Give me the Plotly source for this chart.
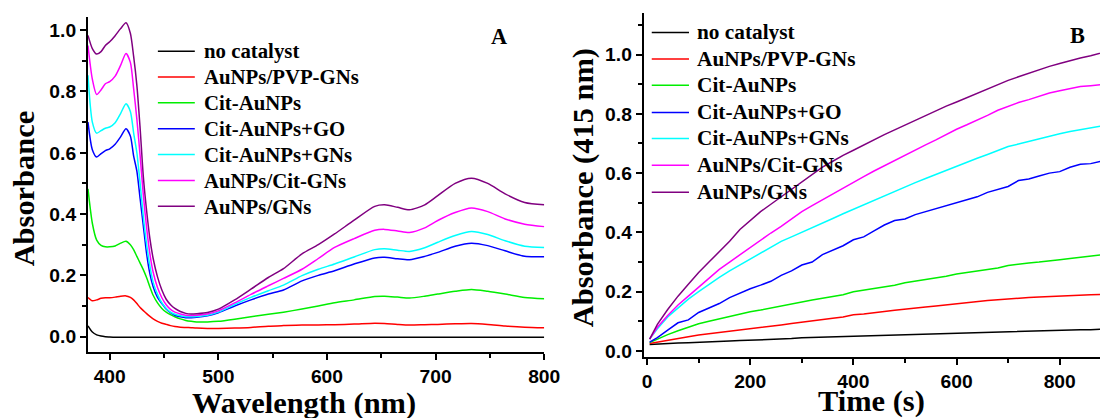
import plotly.graph_objects as go

# Observed page geometry: the figure lands 8px in from the page corner and the
# snapshot is scaled by ~0.9855. Positions below are given in reference pixels
# and converted to figure pixels.
S = 0.9855
OFF = 8
W, H = 1116, 416


def fpx(p):
    return p / S - OFF


def fx(p):
    return fpx(p) / W


def fy(p):
    return 1 - fpx(p) / H


def fs(size):
    return size / S


names = ["no catalyst", "AuNPs/PVP-GNs", "Cit-AuNPs", "Cit-AuNPs+GO",
         "Cit-AuNPs+GNs", "AuNPs/Cit-GNs", "AuNPs/GNs"]
colors = ["#000000", "#ff0000", "#00ee00", "#0000ff", "#00ffff", "#ff00ff", "#800080"]

# ---------------- Panel A: UV-vis spectra ----------------
wavelength = [380, 384, 388, 392, 396, 400, 405, 410, 415, 419,
              422, 425, 428, 431, 434, 437, 440, 444, 448, 452,
              456, 460, 465, 470, 475, 480, 490, 500, 515, 530,
              546, 560, 577, 592, 607, 625, 644, 653, 665, 676,
              690, 702, 718, 733, 748, 764, 782, 800]

spec_no_catalyst = [0.035, 0.015, 0.006, 0.002, 0.0, -0.001, -0.002, -0.002, -0.002, -0.002,
                    -0.002, -0.002, -0.002, -0.002, -0.002, -0.002, -0.002, -0.002, -0.002, -0.002,
                    -0.002, -0.002, -0.002, -0.002, -0.002, -0.002, -0.002, -0.002, -0.002, -0.002,
                    -0.002, -0.002, -0.002, -0.002, -0.002, -0.002, -0.002, -0.002, -0.002, -0.002,
                    -0.002, -0.002, -0.002, -0.002, -0.002, -0.002, -0.002, -0.002]
spec_pvp_gns = [0.128, 0.117, 0.12, 0.125, 0.127, 0.127, 0.129, 0.132, 0.133, 0.128,
                0.12, 0.108, 0.095, 0.085, 0.075, 0.066, 0.058, 0.05, 0.044, 0.04,
                0.036, 0.033, 0.031, 0.03, 0.029, 0.028, 0.027, 0.027, 0.028, 0.03,
                0.034, 0.036, 0.038, 0.038, 0.039, 0.041, 0.044, 0.043, 0.04, 0.038,
                0.039, 0.04, 0.042, 0.043, 0.04, 0.035, 0.031, 0.029]
spec_cit_aunps = [0.482, 0.37, 0.315, 0.298, 0.293, 0.293, 0.296, 0.305, 0.311, 0.3,
                  0.284, 0.262, 0.24, 0.218, 0.192, 0.162, 0.135, 0.11, 0.092, 0.08,
                  0.072, 0.065, 0.058, 0.053, 0.05, 0.048, 0.048, 0.05, 0.057, 0.065,
                  0.073, 0.08, 0.09, 0.1, 0.111, 0.12, 0.131, 0.132, 0.129, 0.126,
                  0.132, 0.139, 0.148, 0.154, 0.148, 0.139, 0.128, 0.124]
spec_cit_go = [0.70, 0.61, 0.586, 0.597, 0.607, 0.613, 0.628, 0.652, 0.678, 0.655,
               0.59, 0.54, 0.45, 0.36, 0.27, 0.205, 0.163, 0.128, 0.108, 0.09,
               0.078, 0.07, 0.065, 0.062, 0.062, 0.063, 0.068, 0.078, 0.1, 0.12,
               0.139, 0.152, 0.182, 0.2, 0.215, 0.237, 0.257, 0.259, 0.254, 0.251,
               0.262, 0.275, 0.295, 0.305, 0.297, 0.28, 0.262, 0.261]
spec_cit_gns = [0.853, 0.7, 0.664, 0.672, 0.68, 0.684, 0.698, 0.728, 0.76, 0.735,
                0.665, 0.6, 0.5, 0.39, 0.3, 0.23, 0.177, 0.138, 0.11, 0.092,
                0.08, 0.073, 0.068, 0.065, 0.065, 0.066, 0.07, 0.08, 0.105, 0.128,
                0.15, 0.168, 0.199, 0.22, 0.237, 0.26, 0.284, 0.287, 0.282, 0.278,
                0.29, 0.308, 0.33, 0.343, 0.333, 0.313, 0.295, 0.291]
spec_aunps_cit_gns = [0.95, 0.84, 0.79, 0.805, 0.825, 0.832, 0.85, 0.885, 0.924, 0.895,
                      0.81, 0.71, 0.59, 0.46, 0.355, 0.27, 0.21, 0.16, 0.127, 0.104,
                      0.089, 0.08, 0.074, 0.07, 0.069, 0.07, 0.074, 0.084, 0.11, 0.138,
                      0.166, 0.19, 0.22, 0.255, 0.291, 0.32, 0.347, 0.35, 0.345, 0.34,
                      0.355, 0.379, 0.405, 0.42, 0.408, 0.384, 0.367, 0.359]
spec_aunps_gns = [0.983, 0.94, 0.922, 0.93, 0.95, 0.962, 0.982, 1.005, 1.024, 0.99,
                  0.915, 0.82, 0.68, 0.52, 0.41, 0.32, 0.255, 0.195, 0.152, 0.122,
                  0.104, 0.092, 0.082, 0.076, 0.074, 0.075, 0.079, 0.09, 0.12, 0.155,
                  0.193, 0.222, 0.27, 0.3, 0.335, 0.38, 0.425, 0.43, 0.422, 0.414,
                  0.43, 0.46, 0.5, 0.517, 0.5, 0.466, 0.438, 0.43]

# ---------------- Panel B: kinetics at 415 nm ----------------
time_s = [5, 20, 40, 60, 80, 100, 120, 140, 160, 180,
          200, 220, 240, 260, 280, 300, 320, 340, 360, 380,
          400, 420, 440, 460, 480, 500, 520, 540, 560, 580,
          600, 620, 640, 660, 680, 700, 720, 740, 760, 780,
          800, 820, 840, 860, 880, 900]

kin_no_catalyst = [0.022, 0.024, 0.026, 0.027, 0.028, 0.03, 0.031, 0.033, 0.034, 0.035,
                   0.036, 0.037, 0.039, 0.04, 0.042, 0.045, 0.046, 0.047, 0.048, 0.05,
                   0.052, 0.053, 0.054, 0.055, 0.056, 0.057, 0.058, 0.059, 0.06, 0.061,
                   0.062, 0.063, 0.064, 0.065, 0.066, 0.066, 0.067, 0.068, 0.069, 0.07,
                   0.07, 0.071, 0.072, 0.072, 0.073, 0.074]
kin_pvp_gns = [0.025, 0.03, 0.036, 0.042, 0.048, 0.054, 0.058, 0.063, 0.067, 0.071,
               0.075, 0.079, 0.083, 0.088, 0.093, 0.097, 0.1, 0.105, 0.11, 0.115,
               0.122, 0.125, 0.128, 0.133, 0.137, 0.14, 0.144, 0.148, 0.152, 0.156,
               0.16, 0.163, 0.167, 0.17, 0.173, 0.176, 0.178, 0.18, 0.182, 0.184,
               0.186, 0.187, 0.188, 0.19, 0.191, 0.192]
kin_cit_aunps = [0.028, 0.04, 0.055, 0.068, 0.08, 0.092, 0.1, 0.108, 0.117, 0.125,
                 0.132, 0.138, 0.145, 0.152, 0.16, 0.165, 0.172, 0.178, 0.185, 0.19,
                 0.2, 0.205, 0.21, 0.217, 0.222, 0.23, 0.235, 0.24, 0.246, 0.252,
                 0.26, 0.265, 0.27, 0.275, 0.28, 0.288, 0.293, 0.297, 0.3, 0.305,
                 0.308, 0.312, 0.316, 0.32, 0.324, 0.328]
kin_cit_go = [0.03, 0.045, 0.07, 0.095, 0.105, 0.13, 0.145, 0.16, 0.18, 0.195,
              0.21, 0.222, 0.235, 0.255, 0.27, 0.29, 0.3, 0.325, 0.34, 0.355,
              0.375, 0.385, 0.405, 0.425, 0.44, 0.445, 0.46, 0.47, 0.48, 0.49,
              0.5, 0.51, 0.52, 0.535, 0.545, 0.555, 0.575, 0.58, 0.59, 0.6,
              0.605, 0.62, 0.63, 0.632, 0.64, 0.65]
kin_cit_gns = [0.04, 0.075, 0.115, 0.145, 0.175, 0.2, 0.225, 0.248, 0.27, 0.29,
               0.31, 0.33, 0.35, 0.37, 0.385, 0.4, 0.415, 0.43, 0.447, 0.463,
               0.478, 0.495, 0.51, 0.525, 0.54, 0.555, 0.568, 0.582, 0.596, 0.61,
               0.624, 0.637, 0.65, 0.663, 0.677, 0.69, 0.698, 0.707, 0.716, 0.725,
               0.733, 0.74, 0.746, 0.752, 0.759, 0.767]
kin_aunps_cit_gns = [0.04, 0.08, 0.12, 0.155, 0.185, 0.215, 0.245, 0.275, 0.3, 0.325,
                     0.35, 0.375, 0.398, 0.42, 0.445, 0.47, 0.49, 0.51, 0.53, 0.55,
                     0.568, 0.588, 0.607, 0.625, 0.643, 0.66, 0.677, 0.695, 0.712, 0.73,
                     0.748, 0.763, 0.778, 0.795, 0.812, 0.826, 0.838, 0.848, 0.86, 0.87,
                     0.878, 0.886, 0.892, 0.895, 0.898, 0.905]
kin_aunps_gns = [0.04, 0.09, 0.14, 0.185, 0.225, 0.265, 0.3, 0.335, 0.37, 0.41,
                 0.44, 0.47, 0.495, 0.52, 0.545, 0.57, 0.595, 0.62, 0.64, 0.66,
                 0.677, 0.695, 0.713, 0.73, 0.746, 0.762, 0.778, 0.795, 0.81, 0.826,
                 0.84, 0.855, 0.87, 0.885, 0.9, 0.913, 0.925, 0.937, 0.948, 0.96,
                 0.97, 0.98, 0.988, 0.996, 1.005, 1.015]

spectra = [spec_no_catalyst, spec_pvp_gns, spec_cit_aunps, spec_cit_go,
           spec_cit_gns, spec_aunps_cit_gns, spec_aunps_gns]
kinetics = [kin_no_catalyst, kin_pvp_gns, kin_cit_aunps, kin_cit_go,
            kin_cit_gns, kin_aunps_cit_gns, kin_aunps_gns]

fig = go.Figure()
for name, col, ys in zip(names, colors, spectra):
    fig.add_trace(go.Scatter(x=wavelength, y=ys, mode="lines", name=name,
                             line=dict(color=col, width=1.5, shape="spline", smoothing=0.7),
                             xaxis="x", yaxis="y", showlegend=False))
for name, col, ys in zip(names, colors, kinetics):
    fig.add_trace(go.Scatter(x=time_s, y=ys, mode="lines", name=name,
                             line=dict(color=col, width=1.5),
                             xaxis="x2", yaxis="y2", showlegend=False))

tickfont = dict(family="Liberation Sans, Arial, sans-serif", size=fs(19), color="black",
                weight="bold")
axis_common = dict(showline=True, linecolor="black", linewidth=2, ticks="outside",
                   ticklen=6, tickwidth=1.5, tickcolor="black", showgrid=False,
                   zeroline=False, tickfont=tickfont, mirror=False)
minor_common = dict(ticklen=4, ticks="outside", tickcolor="black", tickwidth=1.5)

fig.update_layout(
    width=W, height=H, margin=dict(l=0, r=0, t=0, b=0),
    paper_bgcolor="white", plot_bgcolor="white", showlegend=False,
    xaxis=dict(domain=[fx(86), fx(543)], range=[380, 800], dtick=100, tick0=400,
               minor=dict(dtick=50, **minor_common), anchor="y", **axis_common),
    yaxis=dict(domain=[fy(351), fy(17)], range=[-0.05, 1.0425], dtick=0.2, tick0=0,
               tickformat=".1f", minor=dict(dtick=0.1, **minor_common),
               anchor="x", **axis_common),
    xaxis2=dict(domain=[fx(642.7), min(1.0, fx(1108))], range=[-6.4, 893.6], dtick=200, tick0=0,
                minor=dict(dtick=100, **minor_common), anchor="y2", **axis_common),
    yaxis2=dict(domain=[fy(356), fy(13)], range=[-0.0203, 1.1397], dtick=0.2, tick0=0,
                tickformat=".1f", minor=dict(dtick=0.1, **minor_common),
                anchor="x2", **axis_common),
)

serif = "Liberation Serif, Times New Roman, serif"
annotations = []


def add_text(text, x, y, size, angle=0, xanchor="center"):
    annotations.append(dict(text=text, x=fx(x), y=fy(y), xref="paper", yref="paper",
                            showarrow=False, xanchor=xanchor, yanchor="middle", textangle=angle,
                            font=dict(family=serif, size=fs(size), color="black", weight="bold")))


# axis titles
add_text("Absorbance", 21.7, 188, 30, angle=-90)
add_text("Wavelength (nm)", 302, 402, 30)
add_text("Absorbance (415 nm)", 581.7, 186.7, 30, angle=-90)
add_text("Time (s)", 871, 400, 30)
# panel letters
add_text("A", 498, 36, 22)
add_text("B", 1077, 35, 22)

# legends (key lines + labels)
shapes = []
legA_rows = [51, 76.7, 102.3, 128.3, 154, 180, 205.7]
legB_rows = [32.3, 58.7, 85, 112, 138, 164.7, 191.7]
for name, col, ra, rb in zip(names, colors, legA_rows, legB_rows):
    shapes.append(dict(type="line", xref="paper", yref="paper", x0=fx(156), x1=fx(193),
                       y0=fy(ra), y1=fy(ra), line=dict(color=col, width=1.5)))
    add_text(name, 200, ra, 20.5, xanchor="left")
    shapes.append(dict(type="line", xref="paper", yref="paper", x0=fx(650.7), x1=fx(688),
                       y0=fy(rb), y1=fy(rb), line=dict(color=col, width=1.5)))
    add_text(name, 694, rb, 21, xanchor="left")

fig.update_layout(annotations=annotations, shapes=shapes)
fig.write_html("out.html")
